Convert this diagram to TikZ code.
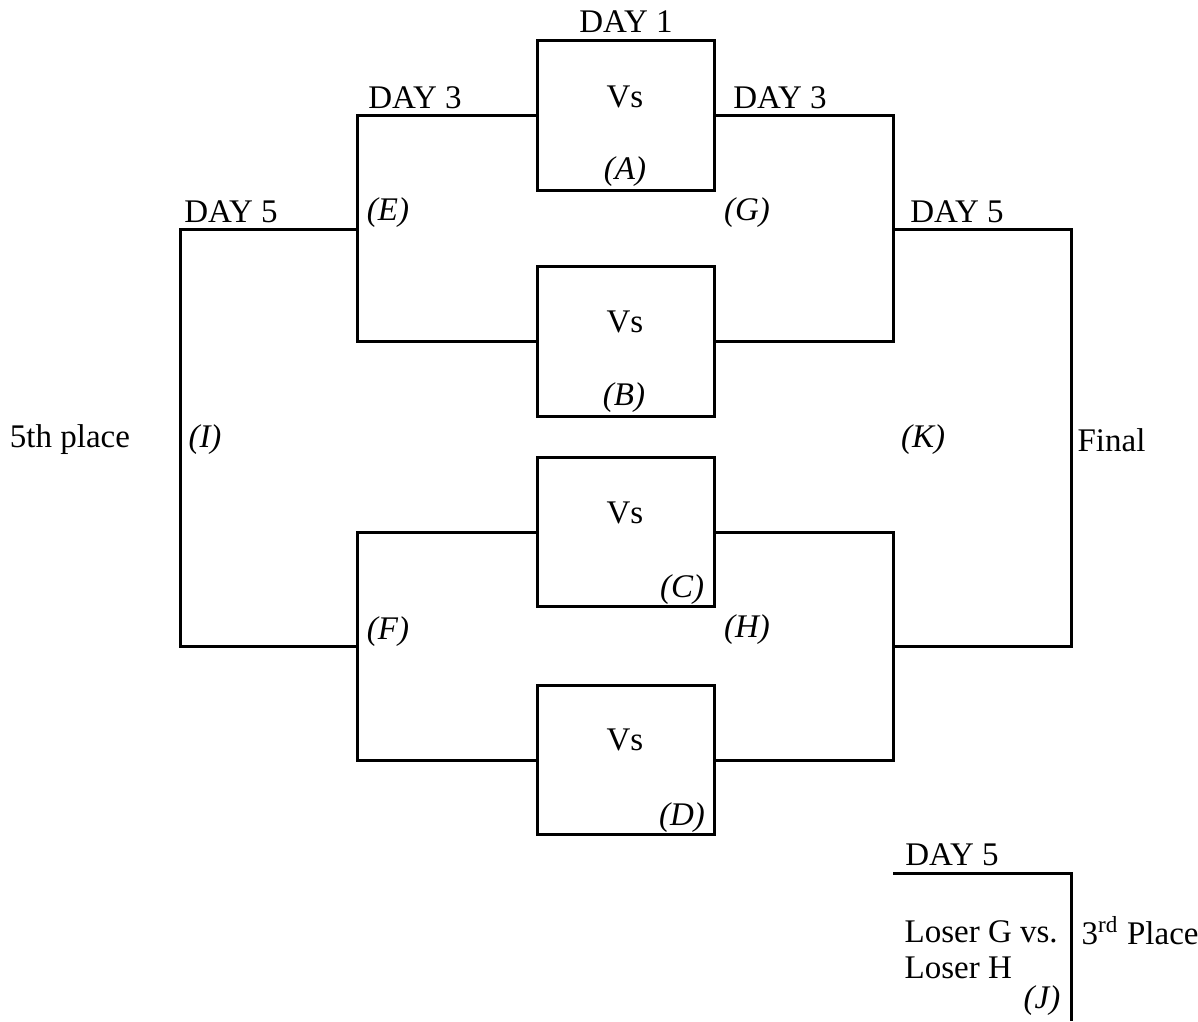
\documentclass[tikz,border=0pt]{standalone}
\usepackage{fontspec}
\setmainfont{Liberation Serif}
\tikzset{
	game/.style={draw, line width=1pt, minimum width=59.3pt, minimum height=49.7pt, inner sep=0pt},
	lbl/.style={inner sep=0pt, font=\fontsize{11}{12}\selectfont},
	tag/.style={inner sep=0pt, font=\fontsize{11}{12}\selectfont\itshape},
	link/.style={line width=1pt}
}
\begin{document}
\begin{tikzpicture}[x=0.3333pt, y=-0.3333pt]
			\useasboundingbox (0,0) rectangle (1198,1021);
			\node[game] (a) at (626,115.5) {};
			\node[game] (b) at (626,341.5) {};
			\node[game] (c) at (626,532) {};
			\node[game] (d) at (626,760) {};
			\coordinate (e) at (357,229);
			\coordinate (f) at (357,646);
			\coordinate (g) at (893,229);
			\coordinate (h) at (893,646);
			\coordinate (i) at (180,438);
			\coordinate (k) at (1071,438);
			\coordinate (j) at (893,873);
			\coordinate (jend) at (1071,1021);
			\draw[link] (a.west) -| (e) |- (b.west);
			\draw[link] (c.west) -| (f) |- (d.west);
			\draw[link] (a.east) -| (g) |- (b.east);
			\draw[link] (c.east) -| (h) |- (d.east);
			\draw[link] (e) -| (i) |- (f);
			\draw[link] (g) -| (k) |- (h);
			\draw[link] (j) -| (jend);
			\node[lbl] (dayone) at (626,22) {DAY 1};
			\node[lbl] (daythreel) at (415,98) {DAY 3};
			\node[lbl] (daythreer) at (780,98) {DAY 3};
			\node[lbl] (dayfivel) at (231,212) {DAY 5};
			\node[lbl] (dayfiver) at (957,212) {DAY 5};
			\node[lbl] (dayfivej) at (952,855) {DAY 5};
			\node[lbl] (vsa) at (625,97) {Vs};
			\node[lbl] (vsb) at (625,322) {Vs};
			\node[lbl] (vsc) at (625,513) {Vs};
			\node[lbl] (vsd) at (625,740) {Vs};
			\node[tag] (taga) at (625,172) {(A)};
			\node[tag] (tagb) at (624,398) {(B)};
			\node[tag] (tagc) at (682,590) {(C)};
			\node[tag] (tagd) at (682,818) {(D)};
			\node[tag] (tage) at (388,213) {(E)};
			\node[tag] (tagf) at (388,632) {(F)};
			\node[tag] (tagg) at (747,213) {(G)};
			\node[tag] (tagh) at (747,630) {(H)};
			\node[tag] (tagi) at (205,440) {(I)};
			\node[tag] (tagk) at (923,440) {(K)};
			\node[tag] (tagj) at (1042,1001) {(J)};
			\node[lbl] (fifth) at (70,440) {5th place};
			\node[lbl, anchor=west] (final) at (1077,440) {Final};
			\node[lbl, anchor=west, align=left] (losers) at (904,950) {Loser G vs.\\Loser H};
			\node[lbl, anchor=west] (third) at (1081,931) {3\textsuperscript{rd} Place};
		\end{tikzpicture}
\end{document}
